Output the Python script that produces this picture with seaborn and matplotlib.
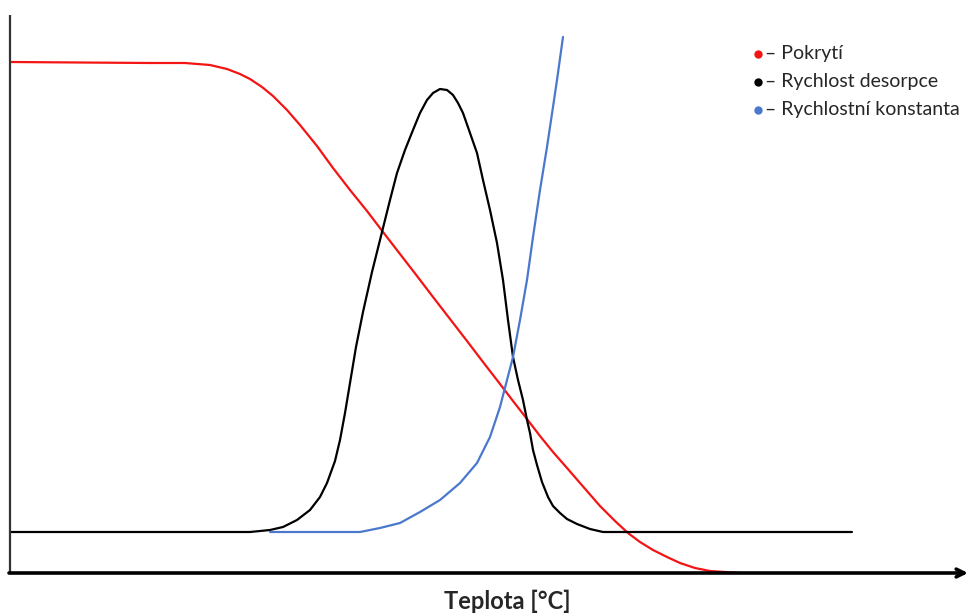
import matplotlib
matplotlib.use("Agg")
import matplotlib.pyplot as plt
import seaborn as sns
import pandas as pd

# Temperature (arbitrary units) and relative values of the three curves
coverage_t = [0, 140, 175, 200, 217, 230, 240, 252, 263, 277, 290, 307, 323,
              340, 357, 373, 390, 407, 423, 440, 457, 473, 490, 503, 517,
              530, 543, 557, 570, 590, 605, 618, 630, 643, 657, 670, 685,
              700, 715, 730]
coverage_v = [511, 510, 510, 508, 504, 499, 494, 486, 477, 463, 448, 427, 405,
              383, 362, 341, 319, 297, 276, 254, 232, 211, 189, 172, 154,
              137, 121, 105, 90, 67, 52, 40, 31, 23, 16, 10, 5,
              2, 1, 0]

desorption_t = [0, 240, 260, 273, 287, 300, 310, 317, 325, 330, 335, 340, 346,
                353, 362, 372, 380, 387, 395, 403, 410, 417, 423, 430, 437,
                443, 448, 453, 460, 467, 473, 480, 487, 493, 498, 503, 508,
                513, 517, 520, 523, 527, 532, 538, 543, 550, 557, 567, 580,
                593, 842]
desorption_v = [41, 41, 43, 46, 53, 63, 76, 90, 112, 133, 160, 190, 226,
                261, 301, 341, 373, 400, 423, 443, 460, 473, 480, 484, 483,
                478, 470, 460, 440, 420, 393, 363, 330, 293, 253, 216, 193,
                173, 153, 140, 123, 108, 91, 76, 67, 60, 54, 49, 44,
                41, 41]

rate_const_t = [260, 350, 370, 390, 410, 430, 450, 467, 480, 490, 497, 503,
                510, 517, 523, 530, 537, 543, 547, 553]
rate_const_v = [41, 41, 45, 50, 61, 73, 90, 110, 136, 166, 193, 216,
                253, 293, 336, 383, 426, 466, 493, 536]

series_labels = ["Pokrytí", "Rychlost desorpce", "Rychlostní konstanta"]
series_colors = ["#f41414", "#000000", "#4a78cc"]
x_label = "Teplota [°C]"

df = pd.concat([
    pd.DataFrame({"t": coverage_t, "v": coverage_v, "s": series_labels[0]}),
    pd.DataFrame({"t": desorption_t, "v": desorption_v, "s": series_labels[1]}),
    pd.DataFrame({"t": rate_const_t, "v": rate_const_v, "s": series_labels[2]}),
], ignore_index=True)

sns.set_style("white")
plt.rcParams["font.family"] = ["Lato", "DejaVu Sans"]

fig = plt.figure(figsize=(9.69, 6.15), dpi=100)
ax = fig.add_axes([0, 0, 1, 1])
ax.set_xlim(-10, 959)
ax.set_ylim(-42, 573)
ax.set_axis_off()

sns.lineplot(data=df, x="t", y="v", hue="s", palette=series_colors,
             hue_order=series_labels, sort=False, estimator=None,
             linewidth=1.6, legend=False, ax=ax)

# Axes: plain vertical line, horizontal arrow for temperature
ax.plot([0, 0], [0, 558], color="#333333", lw=1.6, solid_capstyle="butt")
ax.annotate("", xy=(958, 0), xytext=(-1, 0),
            arrowprops=dict(arrowstyle="->", lw=2.6, color="black",
                            mutation_scale=14, shrinkA=0, shrinkB=0))
ax.text(497, -28, x_label, ha="center", va="center", fontsize=17,
        fontweight="bold")

# Legend: dot, dash, label
legend_y = [519, 491, 463]
for lab, col, yy in zip(series_labels, series_colors, legend_y):
    ax.plot([748], [yy], "o", color=col, ms=6, mec="none")
    ax.text(755, yy, "– " + lab, ha="left", va="center", fontsize=14)

fig.savefig("out.png", dpi=100)
